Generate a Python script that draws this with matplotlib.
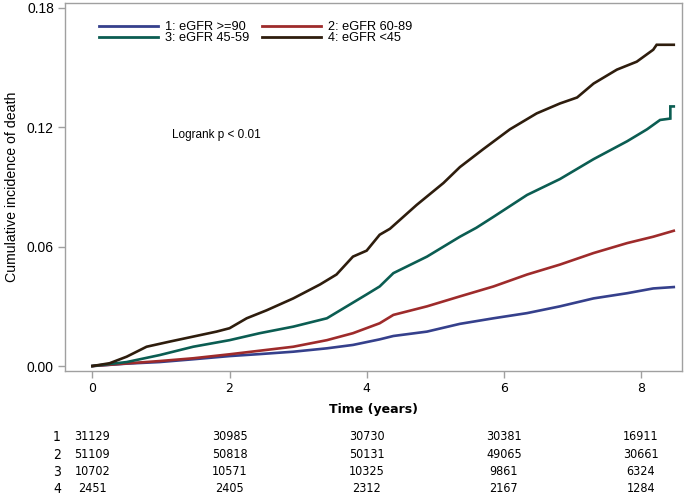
import matplotlib
matplotlib.use("Agg")
import matplotlib.pyplot as plt
from matplotlib.lines import Line2D
from matplotlib.transforms import blended_transform_factory

plt.rcParams.update({
    "font.family": ["Liberation Sans", "DejaVu Sans"],
    "font.size": 9,
    "axes.edgecolor": "#a0a0a0",
    "axes.linewidth": 1.0,
    "xtick.color": "#a0a0a0",
    "ytick.color": "#a0a0a0",
    "xtick.labelcolor": "black",
    "ytick.labelcolor": "black",
})

# cumulative incidence curves
t1 = [0, 0.5, 0.98, 1.47, 2.0, 2.44, 2.93, 3.42, 3.80, 4.19, 4.39, 4.88, 5.36,
      5.85, 6.34, 6.82, 7.31, 7.80, 8.18, 8.48]
c1 = [0, 0.0012, 0.002, 0.0034, 0.005, 0.006, 0.0072, 0.0089, 0.0106, 0.0134,
      0.0151, 0.0173, 0.0212, 0.024, 0.0266, 0.030, 0.034, 0.0366, 0.039, 0.0397]

t2 = [0, 0.5, 0.98, 1.47, 2.0, 2.44, 2.93, 3.42, 3.80, 4.19, 4.39, 4.88, 5.36,
      5.85, 6.34, 6.82, 7.31, 7.80, 8.18, 8.48]
c2 = [0, 0.0013, 0.0025, 0.0039, 0.0059, 0.0077, 0.0097, 0.013, 0.0165, 0.0215,
      0.0257, 0.030, 0.035, 0.040, 0.046, 0.051, 0.0568, 0.0618, 0.065, 0.068]

t3 = [0, 0.5, 0.98, 1.47, 2.0, 2.44, 2.93, 3.42, 3.71, 4.0, 4.19, 4.39, 4.88,
      5.36, 5.6, 5.85, 6.34, 6.82, 7.31, 7.80, 8.09, 8.28, 8.43, 8.43, 8.48]
c3 = [0, 0.002, 0.0055, 0.0097, 0.013, 0.0165, 0.0198, 0.024, 0.030, 0.036,
      0.040, 0.0467, 0.055, 0.065, 0.0695, 0.075, 0.086, 0.094, 0.104, 0.113,
      0.119, 0.1237, 0.1244, 0.1305, 0.1305]

t4 = [0, 0.25, 0.5, 0.79, 1.13, 1.47, 1.81, 2.0, 2.25, 2.54, 2.93, 3.32, 3.56,
      3.80, 4.0, 4.19, 4.34, 4.73, 5.12, 5.36, 5.70, 6.09, 6.48, 6.82, 7.07,
      7.31, 7.65, 7.94, 8.18, 8.23, 8.48]
c4 = [0, 0.0014, 0.0047, 0.0097, 0.0123, 0.0148, 0.0173, 0.019, 0.024, 0.028,
      0.034, 0.041, 0.046, 0.055, 0.058, 0.066, 0.069, 0.081, 0.092, 0.100,
      0.109, 0.119, 0.127, 0.132, 0.135, 0.142, 0.149, 0.153, 0.159, 0.1615,
      0.1615]

labels = ["1: eGFR >=90", "2: eGFR 60-89", "3: eGFR 45-59", "4: eGFR <45"]
colors = ["#35408c", "#9e2b2b", "#0b5d52", "#2e1d0d"]

risk_times = [0, 2, 4, 6, 8]
risk_groups = ["1", "2", "3", "4"]
at_risk = [
    [31129, 30985, 30730, 30381, 16911],
    [51109, 50818, 50131, 49065, 30661],
    [10702, 10571, 10325, 9861, 6324],
    [2451, 2405, 2312, 2167, 1284],
]

fig = plt.figure(figsize=(6.85, 4.99), dpi=100)
ax = fig.add_axes([65 / 685, 1 - 371 / 499, 617 / 685, 368 / 499])

curves = [(t1, c1), (t2, c2), (t3, c3), (t4, c4)]
for (t, c), col in zip(curves, colors):
    ax.plot(t, c, color=col, lw=1.9, solid_joinstyle="miter")

ax.set_xlim(-0.40, 8.60)
ax.set_ylim(-0.0025, 0.1825)
ax.set_xticks(risk_times)
ax.set_yticks([0.0, 0.06, 0.12, 0.18])
ax.set_yticklabels(["0.00", "0.06", "0.12", "0.18"], fontsize=10)
ax.set_xticklabels([str(v) for v in risk_times],
                   family=["DejaVu Sans"], fontsize=9)
ax.tick_params(length=5, width=1.0, pad=3)
ax.set_ylabel("Cumulative incidence of death", fontsize=10.2, labelpad=6)

handles = [Line2D([], [], color=col, lw=2.0) for col in colors]
order = [0, 2, 1, 3]
ax.legend([handles[i] for i in order], [labels[i] for i in order], ncol=2,
          loc="upper left", bbox_to_anchor=(34 / 617, 1 - 18 / 368),
          frameon=False, fontsize=9.2, handlelength=4.6, handletextpad=0.55,
          columnspacing=1.0, labelspacing=-0.08, borderpad=0, borderaxespad=0)

fig.text(172 / 685, 1 - 135 / 499, "Logrank p < 0.01", fontsize=8.5,
         va="center", ha="left")

fig.text((65 + 617 / 2) / 685, 1 - 409 / 499, "Time (years)",
         family=["DejaVu Sans"], fontsize=9, fontweight="bold",
         ha="center", va="center")

tr = blended_transform_factory(ax.transData, fig.transFigure)
row_y = [436.7, 455, 471.7, 489]
for g, row, yy in zip(risk_groups, at_risk, row_y):
    fig.text(57 / 685, 1 - yy / 499, g, family=["DejaVu Sans"],
             fontstretch="condensed", fontsize=10, ha="center", va="center")
    for x, n in zip(risk_times, row):
        ax.text(x, 1 - yy / 499, str(n), transform=tr,
                family=["DejaVu Sans"], fontstretch="condensed",
                fontsize=9, ha="center", va="center")

fig.savefig("out.png", dpi=100)
